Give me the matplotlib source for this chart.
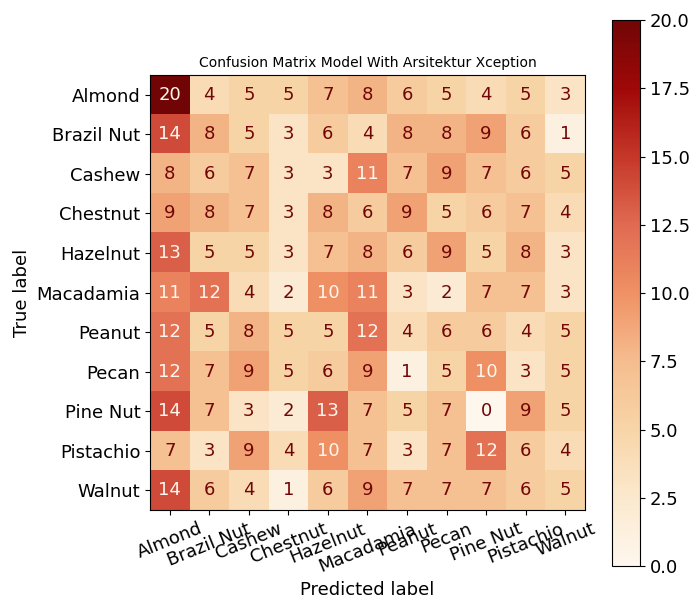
import numpy as np
import matplotlib
matplotlib.use('Agg')
import matplotlib.pyplot as plt
from matplotlib.colors import ListedColormap

labels = ['Almond', 'Brazil Nut', 'Cashew', 'Chestnut', 'Hazelnut', 'Macadamia',
          'Peanut', 'Pecan', 'Pine Nut', 'Pistachio', 'Walnut']

cm = np.array([
    [20, 4, 5, 5, 7, 8, 6, 5, 4, 5, 3],
    [14, 8, 5, 3, 6, 4, 8, 8, 9, 6, 1],
    [8, 6, 7, 3, 3, 11, 7, 9, 7, 6, 5],
    [9, 8, 7, 3, 8, 6, 9, 5, 6, 7, 4],
    [13, 5, 5, 3, 7, 8, 6, 9, 5, 8, 3],
    [11, 12, 4, 2, 10, 11, 3, 2, 7, 7, 3],
    [12, 5, 8, 5, 5, 12, 4, 6, 6, 4, 5],
    [12, 7, 9, 5, 6, 9, 1, 5, 10, 3, 5],
    [14, 7, 3, 2, 13, 7, 5, 7, 0, 9, 5],
    [7, 3, 9, 4, 10, 7, 3, 7, 12, 6, 4],
    [14, 6, 4, 1, 6, 9, 7, 7, 7, 6, 5],
])

# OrRd, slightly washed out like the screenshot
base = plt.get_cmap('OrRd')(np.linspace(0, 1, 256))
lum = (0.299 * base[:, 0] + 0.587 * base[:, 1] + 0.114 * base[:, 2])[:, None]
base[:, :3] = 0.85 * base[:, :3] + 0.15 * lum
cmap = ListedColormap(base)

fig = plt.figure(figsize=(6.89, 6.01), dpi=100)
ax = fig.add_axes([0.2177, 0.1514, 0.6313, 0.7238])
cax = fig.add_axes([0.888, 0.0582, 0.0406, 0.9085])

im = ax.imshow(cm, cmap=cmap, vmin=0, vmax=20, interpolation='nearest', aspect='auto')
thresh = (cm.max() + cm.min()) / 2.0
for i in range(cm.shape[0]):
    for j in range(cm.shape[1]):
        color = cmap(0.0) if cm[i, j] >= thresh else cmap(1.0)
        ax.text(j, i, str(cm[i, j]), ha='center', va='center', color=color, fontsize=13)

ax.set_xticks(np.arange(len(labels)))
ax.set_yticks(np.arange(len(labels)))
ax.set_xticklabels(labels, rotation=22, fontsize=13)
ax.set_yticklabels(labels, fontsize=13)
ax.set_xlabel('Predicted label', fontsize=13)
ax.set_ylabel('True label', fontsize=13)
ax.set_title('Confusion Matrix Model With Arsitektur Xception', fontsize=10)

cb = fig.colorbar(im, cax=cax)
cb.ax.tick_params(labelsize=13)

fig.savefig('out.png', dpi=100)
